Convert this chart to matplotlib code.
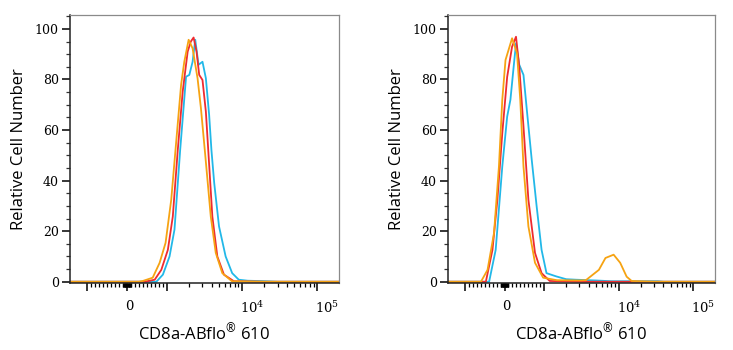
import matplotlib
matplotlib.use("Agg")
import matplotlib.pyplot as plt
from matplotlib.ticker import FixedLocator, NullFormatter
import matplotlib.transforms as mtransforms

# ---------------- data (fluorescence value, relative cell number) ----------------
left_orange_x = [-1700, 300, 400, 650, 825, 975, 1153, 1313, 1561, 1720, 1965, 2218, 2581, 2861, 3258, 3870, 4510, 5510, 7390, 20000, 200000]
left_orange_y = [0, 0, 0.3, 1.6, 7.5, 15.4, 32.4, 52, 78, 87, 95.7, 92.3, 80.5, 68.7, 50.5, 25.8, 11.4, 3.4, 0.2, 0, 0]

left_red_x = [-1700, 450, 700, 867, 1040, 1210, 1408, 1638, 1907, 2100, 2287, 2504, 2716, 3003, 3329, 3600, 4060, 4730, 5790, 7860, 20000, 200000]
left_red_y = [0, 0, 0.8, 4.7, 12.6, 25.8, 52, 75.2, 91, 95, 96.6, 91, 81.8, 79.8, 67.3, 51, 25.8, 10, 2.8, 0.2, 0, 0]

left_cyan_x = [-1700, 500, 742, 907, 1095, 1274, 1515, 1816, 2007, 2218, 2406, 2660, 3003, 3329, 3680, 3950, 4300, 4980, 6100, 7450, 9120, 12000, 20700, 30000, 200000]
left_cyan_y = [0, 0, 0, 2.8, 10, 20.6, 52, 81.1, 81.8, 87, 95.7, 85.8, 87, 80.5, 66, 52, 39, 21.9, 10, 3.4, 0.8, 0.4, 0.2, 0, 0]

right_orange_x = [-1700, -600, -432, -267, -142, -57, 25, 192, 317, 400, 482, 607, 775, 982, 1500, 3000, 3650, 5460, 6690, 8600, 10530, 12850, 14990, 30000, 200000]
right_orange_y = [0, 0, 4.7, 19.3, 45.6, 72, 87.7, 96.3, 90.4, 72, 45.6, 21.9, 7.5, 1.6, 0.6, 0.5, 0.6, 4.7, 9.4, 10.7, 7.5, 2, 0.3, 0, 0]

right_red_x = [-1700, -475, -307, -182, -57, 67, 192, 292, 375, 482, 607, 775, 942, 1199, 3000, 200000]
right_red_y = [0, 0, 12.6, 32.4, 58.8, 81, 93, 96.9, 85, 61.4, 32.4, 11.4, 3.4, 0.3, 0, 0]

right_cyan_x = [-1700, -392, -225, -57, 67, 150, 232, 292, 375, 482, 567, 692, 817, 942, 1085, 1470, 1990, 2690, 4940, 8000, 15000, 33600, 40000, 200000]
right_cyan_y = [0, 0, 12.6, 45.6, 65.3, 72, 85, 94.3, 85.8, 81.8, 68, 48.2, 29.8, 12.6, 3.4, 2.1, 1.0, 0.8, 0.5, 0.2, 0.2, 0.2, 0, 0]

x_major = [-1000, 0, 1000, 10000, 100000]
x_major_labels = ["", "0", "", r"$\mathregular{10^4}$", r"$\mathregular{10^5}$"]
y_major = [0, 20, 40, 60, 80, 100]
y_labels = ["0", "20", "40", "60", "80", "100"]
x_label = r"CD8a-ABflo$^{\mathregular{®}}$ 610"
y_label = "Relative Cell Number"

col_orange = "#F6A312"
col_red = "#EE2B30"
col_cyan = "#22B8E8"

# minor tick positions (axis decoration)
x_minor = ([-v for v in range(10, 100, 10)] + [v for v in range(10, 100, 10)] +
           [-v for v in range(100, 1000, 100)] + [v for v in range(100, 1000, 100)] +
           [v for v in range(2000, 10000, 1000)] + [v for v in range(20000, 100000, 10000)])
y_minor = list(range(0, 106, 5))

fig = plt.figure(figsize=(7.33, 3.5), dpi=100)
positions = [[70 / 733, 67 / 350, 269 / 733, 268 / 350],
             [448 / 733, 67 / 350, 267 / 733, 268 / 350]]
panels = [
    [(left_cyan_x, left_cyan_y, col_cyan), (left_red_x, left_red_y, col_red), (left_orange_x, left_orange_y, col_orange)],
    [(right_cyan_x, right_cyan_y, col_cyan), (right_red_x, right_red_y, col_red), (right_orange_x, right_orange_y, col_orange)],
]

serif = "DejaVu Serif"
for pos, series in zip(positions, panels):
    ax = fig.add_axes(pos)
    ax.set_xscale("symlog", linthresh=1000, linscale=0.474)
    for xs, ys, c in series:
        ax.plot(xs, ys, color=c, lw=1.3, solid_joinstyle="round")
    ax.set_xlim(-1700, 196000)
    ax.set_ylim(-0.5, 105.5)

    ax.xaxis.set_major_locator(FixedLocator(x_major))
    ax.xaxis.set_minor_locator(FixedLocator(x_minor))
    ax.xaxis.set_minor_formatter(NullFormatter())
    ax.set_xticklabels(x_major_labels, fontfamily=serif, fontsize=9.5)
    ax.yaxis.set_major_locator(FixedLocator(y_major))
    ax.yaxis.set_minor_locator(FixedLocator(y_minor))
    ax.set_yticklabels(y_labels, fontfamily=serif, fontsize=9)

    ax.tick_params(axis="x", which="major", length=5.5, width=1.1, pad=7, color="black")
    ax.tick_params(axis="x", which="minor", length=3, width=0.9, color="black")
    ax.tick_params(axis="y", which="major", length=6, width=1.1, pad=2, color="black")
    ax.tick_params(axis="y", which="minor", length=2.6, width=0.9, color="#333333")

    for lab in ax.get_xticklabels():
        if lab.get_text().startswith("$"):
            lab.set_horizontalalignment("left")
            lab.set_transform(lab.get_transform() + mtransforms.ScaledTranslation(-2 / 100, 0, fig.dpi_scale_trans))
        else:
            lab.set_transform(lab.get_transform() + mtransforms.ScaledTranslation(2 / 100, 0, fig.dpi_scale_trans))

    for s in ["top", "right"]:
        ax.spines[s].set_color("#8a8a8a")
        ax.spines[s].set_linewidth(0.9)
    for s in ["left", "bottom"]:
        ax.spines[s].set_color("#222222")
        ax.spines[s].set_linewidth(1.1)

    ax.set_xlabel(x_label, fontfamily="Open Sans", fontsize=12, labelpad=4)
    ax.set_ylabel(y_label, fontfamily="Open Sans", fontsize=12, labelpad=6)

fig.savefig("out.png", dpi=100, facecolor="white")
